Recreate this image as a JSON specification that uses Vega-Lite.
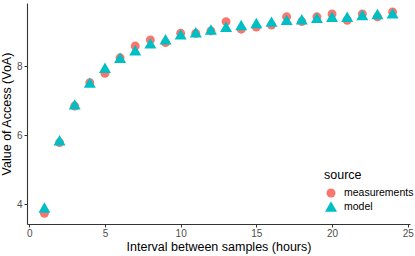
{
  "$schema": "https://vega.github.io/schema/vega-lite/v6.json",
  "width": 383,
  "height": 221,
  "autosize": {"type": "none"},
  "padding": {"left": 27, "top": 3, "right": 5, "bottom": 32},
  "background": "white",
  "config": {
    "view": {"stroke": null},
    "font": "Liberation Sans"
  },
  "data": {
    "values": [
      {"interval": 1, "voa": 3.74, "source": "measurements"},
      {"interval": 2, "voa": 5.79, "source": "measurements"},
      {"interval": 3, "voa": 6.85, "source": "measurements"},
      {"interval": 4, "voa": 7.53, "source": "measurements"},
      {"interval": 5, "voa": 7.80, "source": "measurements"},
      {"interval": 6, "voa": 8.25, "source": "measurements"},
      {"interval": 7, "voa": 8.59, "source": "measurements"},
      {"interval": 8, "voa": 8.77, "source": "measurements"},
      {"interval": 9, "voa": 8.69, "source": "measurements"},
      {"interval": 10, "voa": 8.96, "source": "measurements"},
      {"interval": 11, "voa": 8.96, "source": "measurements"},
      {"interval": 12, "voa": 9.03, "source": "measurements"},
      {"interval": 13, "voa": 9.30, "source": "measurements"},
      {"interval": 14, "voa": 9.08, "source": "measurements"},
      {"interval": 15, "voa": 9.14, "source": "measurements"},
      {"interval": 16, "voa": 9.20, "source": "measurements"},
      {"interval": 17, "voa": 9.44, "source": "measurements"},
      {"interval": 18, "voa": 9.30, "source": "measurements"},
      {"interval": 19, "voa": 9.44, "source": "measurements"},
      {"interval": 20, "voa": 9.52, "source": "measurements"},
      {"interval": 21, "voa": 9.34, "source": "measurements"},
      {"interval": 22, "voa": 9.52, "source": "measurements"},
      {"interval": 23, "voa": 9.44, "source": "measurements"},
      {"interval": 24, "voa": 9.58, "source": "measurements"},
      {"interval": 1, "voa": 3.91, "source": "model"},
      {"interval": 2, "voa": 5.86, "source": "model"},
      {"interval": 3, "voa": 6.90, "source": "model"},
      {"interval": 4, "voa": 7.53, "source": "model"},
      {"interval": 5, "voa": 7.96, "source": "model"},
      {"interval": 6, "voa": 8.25, "source": "model"},
      {"interval": 7, "voa": 8.47, "source": "model"},
      {"interval": 8, "voa": 8.67, "source": "model"},
      {"interval": 9, "voa": 8.79, "source": "model"},
      {"interval": 10, "voa": 8.93, "source": "model"},
      {"interval": 11, "voa": 8.99, "source": "model"},
      {"interval": 12, "voa": 9.07, "source": "model"},
      {"interval": 13, "voa": 9.15, "source": "model"},
      {"interval": 14, "voa": 9.20, "source": "model"},
      {"interval": 15, "voa": 9.26, "source": "model"},
      {"interval": 16, "voa": 9.30, "source": "model"},
      {"interval": 17, "voa": 9.35, "source": "model"},
      {"interval": 18, "voa": 9.37, "source": "model"},
      {"interval": 19, "voa": 9.41, "source": "model"},
      {"interval": 20, "voa": 9.44, "source": "model"},
      {"interval": 21, "voa": 9.44, "source": "model"},
      {"interval": 22, "voa": 9.49, "source": "model"},
      {"interval": 23, "voa": 9.52, "source": "model"},
      {"interval": 24, "voa": 9.54, "source": "model"}
    ]
  },
  "mark": {"type": "point", "filled": true, "opacity": 1},
  "encoding": {
    "x": {
      "field": "interval", "type": "quantitative",
      "scale": {"domain": [-0.15, 25.15], "nice": false, "zero": false},
      "axis": {
        "title": "Interval between samples (hours)",
        "values": [0, 5, 10, 15, 20, 25],
        "grid": false, "domainColor": "#333333", "domainWidth": 1.1,
        "tickColor": "#333333", "tickSize": 3,
        "labelColor": "#4d4d4d", "labelFontSize": 10, "labelPadding": 1,
        "titleFontSize": 12.5, "titleFontWeight": "normal", "titleColor": "black", "titlePadding": 2
      }
    },
    "y": {
      "field": "voa", "type": "quantitative",
      "scale": {"domain": [3.43, 9.84], "nice": false, "zero": false},
      "axis": {
        "title": "Value of Access (VoA)",
        "values": [4, 6, 8],
        "grid": false, "domainColor": "#333333", "domainWidth": 1.1,
        "tickColor": "#333333", "tickSize": 3,
        "labelColor": "#4d4d4d", "labelFontSize": 10, "labelPadding": 2,
        "titleFontSize": 12.5, "titleFontWeight": "normal", "titleColor": "black", "titlePadding": 3
      }
    },
    "color": {
      "field": "source", "type": "nominal",
      "scale": {"domain": ["measurements", "model"], "range": ["#F8766D", "#00BFC4"]},
      "legend": {
        "title": "source", "orient": "none", "legendX": 297, "legendY": 166,
        "titleFontSize": 12.5, "titleFontWeight": "normal", "titleColor": "black", "titlePadding": 6,
        "labelFontSize": 10.5, "labelColor": "black", "rowPadding": 1, "labelOffset": 6
      }
    },
    "shape": {
      "field": "source", "type": "nominal",
      "scale": {"domain": ["measurements", "model"], "range": ["circle", "triangle-up"]}
    },
    "size": {
      "field": "source", "type": "nominal",
      "scale": {"domain": ["measurements", "model"], "range": [80, 144]}
    }
  }
}
